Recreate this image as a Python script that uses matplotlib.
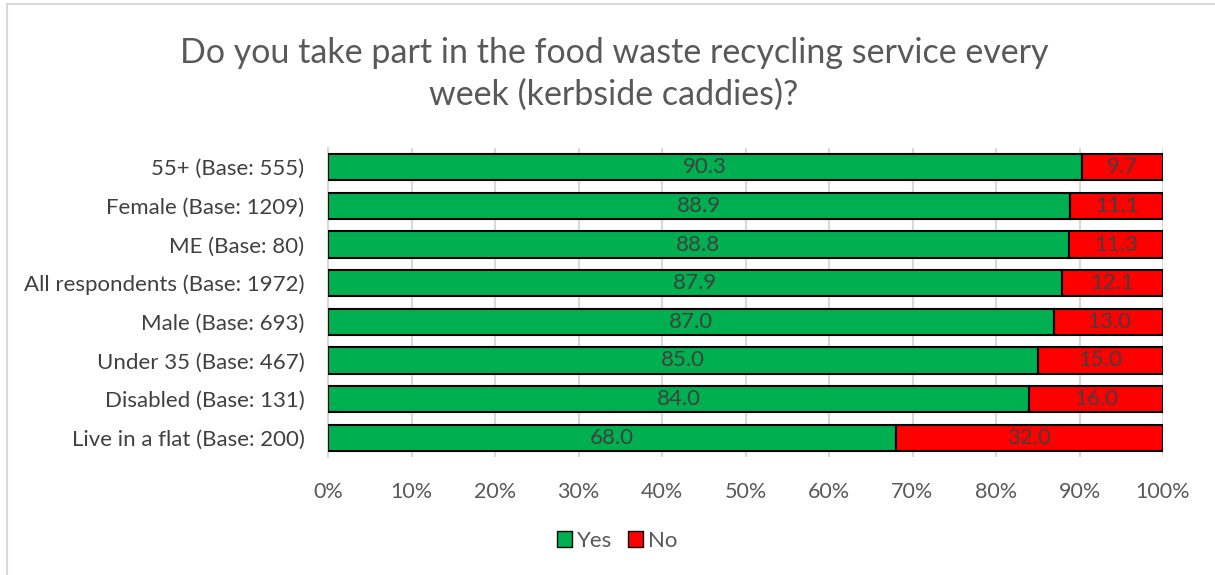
import matplotlib
matplotlib.use("Agg")
import matplotlib.pyplot as plt
from matplotlib.patches import Rectangle, Patch

categories = ["55+ (Base: 555)", "Female (Base: 1209)", "ME (Base: 80)",
              "All respondents (Base: 1972)", "Male (Base: 693)",
              "Under 35 (Base: 467)", "Disabled (Base: 131)",
              "Live in a flat (Base: 200)"]
yes_vals = [90.3, 88.9, 88.8, 87.9, 87.0, 85.0, 84.0, 68.0]
no_vals = [9.7, 11.1, 11.3, 12.1, 13.0, 15.0, 16.0, 32.0]
xticks = [0, 10, 20, 30, 40, 50, 60, 70, 80, 90, 100]
xtick_labels = [f"{t}%" for t in xticks]

plt.rcParams['font.family'] = ['Lato', 'DejaVu Sans']

GREEN = "#00B050"
RED = "#FF0000"

fig = plt.figure(figsize=(12.15, 5.75), dpi=100)
fig.patches.append(Rectangle((7/1215, -0.1), 1.2, (1 - 4/575) + 0.1,
                             transform=fig.transFigure, fill=False,
                             edgecolor="#D9D9D9", linewidth=1.5))
ax = fig.add_axes([328/1215, 1 - 457/575, (1163 - 328)/1215, (457 - 148)/575])

n = len(categories)
ypos = list(range(n))[::-1]
tot = [y + nn for y, nn in zip(yes_vals, no_vals)]
yes_pct = [100 * y / t for y, t in zip(yes_vals, tot)]
no_pct = [100 * nn / t for nn, t in zip(no_vals, tot)]

h = 0.68
ax.barh(ypos, yes_pct, height=h, color=GREEN, edgecolor="black", linewidth=1.5, zorder=3)
ax.barh(ypos, no_pct, left=yes_pct, height=h, color=RED, edgecolor="black", linewidth=1.5, zorder=3)

for y, yp, npct, yv, nv in zip(ypos, yes_pct, no_pct, yes_vals, no_vals):
    ax.text(yp / 2, y, f"{yv:.1f}", ha="center", va="center", fontsize=16,
            color="#404040", zorder=4)
    ax.text(yp + npct / 2, y, f"{nv:.1f}", ha="center", va="center", fontsize=16,
            color="#404040", zorder=4)

ax.set_xlim(0, 100)
ax.set_ylim(-0.5, n - 0.5)
ax.set_yticks(ypos)
ax.set_yticklabels(categories, fontsize=16, color="#404040")
ax.set_xticks(xticks)
ax.set_xticklabels(xtick_labels, fontsize=15.5, color="#595959")
ax.tick_params(axis="both", length=0)
ax.tick_params(axis="x", pad=18)
ax.tick_params(axis="y", pad=17)
ax.grid(axis="x", color="#D9D9D9", linewidth=1.5, zorder=0)
for s in ["top", "right", "bottom"]:
    ax.spines[s].set_visible(False)
ax.spines["left"].set_color("#D9D9D9")
ax.spines["left"].set_linewidth(1.5)

fig.text(614/1215, 1 - 74/575,
         "Do you take part in the food waste recycling service every\nweek (kerbside caddies)?",
         ha="center", va="center", fontsize=24.5, color="#595959", linespacing=1.38)

handles = [Patch(facecolor=GREEN, edgecolor="black", label="Yes"),
           Patch(facecolor=RED, edgecolor="black", label="No")]
fig.legend(handles=handles, loc="center", bbox_to_anchor=(617/1215, 1 - 541/575),
           ncol=2, frameon=False, fontsize=16, handlelength=0.7, handleheight=0.7,
           handletextpad=0.2, columnspacing=0.7, labelcolor="#595959")

fig.savefig("out.png", dpi=100)
